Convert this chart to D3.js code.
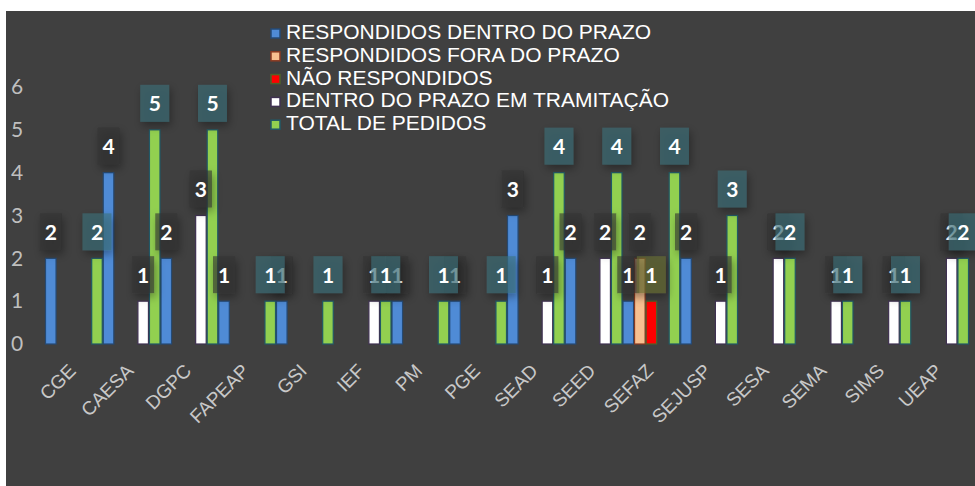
<!DOCTYPE html>
<html>
<head>
<meta charset="utf-8">
<script src="https://cdn.jsdelivr.net/npm/d3@7"></script>
<style>
    body { margin: 0; background: #ffffff; }
</style>
</head>
<body>
<div id="chart"></div>
<script>
// Categories (orgaos)
const categories = ["CGE", "CAESA", "DGPC", "FAPEAP", "GSI", "IEF", "PM", "PGE",
    "SEAD", "SEED", "SEFAZ", "SEJUSP", "SESA", "SEMA", "SIMS", "UEAP"];

// Series values, one per category
const dentroPrazo    = [2, 4, 2, 1, 1, 0, 1, 1, 3, 2, 1, 2, 0, 0, 0, 0];
const foraPrazo      = [0, 0, 0, 0, 0, 0, 0, 0, 0, 0, 2, 0, 0, 0, 0, 0];
const naoRespondidos = [0, 0, 0, 0, 0, 0, 0, 0, 0, 0, 1, 0, 0, 0, 0, 0];
const emTramitacao   = [0, 1, 3, 0, 0, 1, 0, 0, 1, 2, 0, 1, 2, 1, 1, 2];
const totalPedidos   = [2, 5, 5, 1, 1, 1, 1, 1, 4, 4, 4, 3, 2, 1, 1, 2];

const seriesNames = ["RESPONDIDOS DENTRO DO PRAZO", "RESPONDIDOS FORA DO PRAZO",
    "NÃO RESPONDIDOS", "DENTRO DO PRAZO EM TRAMITAÇÃO", "TOTAL DE PEDIDOS"];

const yTicks = [0, 1, 2, 3, 4, 5, 6];

// Styles per series
const seriesFill   = ["#4f8bd6", "#f8c090", "#ff0000", "#ffffff", "#92d050"];
const seriesStroke = ["#254a75", "#8a3a22", "#4f6228", "#3f3151", "#215967"];
const labelBox     = ["#303030", "#303030", "#6a7030", "#303030", "#3b6f7a"];
const labelBoxW    = [22, 22, 29, 22, 29];

const allSeries = [dentroPrazo, foraPrazo, naoRespondidos, emTramitacao, totalPedidos];

const W = 975, H = 486;

let svg = d3.select("#chart")
    .append("svg")
    .attr("width", W)
    .attr("height", H);

// drop shadow for data labels
let defs = svg.append("defs");
let shadow = defs.append("filter")
    .attr("id", "shadow")
    .attr("x", "-50%").attr("y", "-50%")
    .attr("width", "200%").attr("height", "200%");
shadow.append("feDropShadow")
    .attr("dx", 2).attr("dy", 4)
    .attr("stdDeviation", 4)
    .attr("flood-color", "#000")
    .attr("flood-opacity", 0.55);

// chart background
svg.append("rect")
    .attr("x", 6).attr("y", 11)
    .attr("width", W - 6).attr("height", H - 11)
    .attr("fill", "#404040");

// Scales
let x = d3.scaleBand()
    .domain(categories)
    .range([45, 969])
    .paddingInner(0)
    .paddingOuter(0);

let xSeries = d3.scaleBand()
    .domain(d3.range(allSeries.length))
    .range([0, x.bandwidth()]);

let y = d3.scaleLinear()
    .domain([0, 6])
    .range([344, 87]);

// Y axis labels (no line, no ticks)
let yAxis = svg.append("g")
    .attr("transform", "translate(22,0)")
    .call(d3.axisLeft(y).tickValues(yTicks).tickFormat(d3.format("d")).tickSize(0).tickPadding(0));
yAxis.select(".domain").remove();
yAxis.selectAll("text")
    .attr("text-anchor", "middle")
    .attr("x", -5)
    .style("font-family", "Lato, 'Open Sans', sans-serif")
    .style("font-size", "21px")
    .style("fill", "#bfbfbf");

// X axis labels, rotated 45 degrees
svg.append("g")
    .selectAll("text")
    .data(categories)
    .enter()
    .append("text")
    .attr("transform", d => "translate(" + (x(d) + x.bandwidth() / 2 + 3) + ",372) rotate(-45)")
    .attr("text-anchor", "end")
    .style("font-family", "'Liberation Sans', Arial, sans-serif")
    .style("font-size", "19px")
    .style("fill", "#c8c8c8")
    .text(d => d);

// Bars
allSeries.forEach(function (values, s) {
    svg.append("g")
        .selectAll("rect")
        .data(values.map((v, i) => ({cat: categories[i], v: v})).filter(d => d.v > 0))
        .enter()
        .append("rect")
        .attr("x", d => x(d.cat) + xSeries(s) + 0.5)
        .attr("y", d => y(d.v))
        .attr("width", xSeries.bandwidth() - 1)
        .attr("height", d => y(0) - y(d.v))
        .attr("fill", seriesFill[s])
        .attr("stroke", seriesStroke[s])
        .attr("stroke-width", 1.2);
});

// Data labels
allSeries.forEach(function (values, s) {
    let items = values.map((v, i) => ({cat: categories[i], v: v})).filter(d => d.v > 0);
    items.forEach(function (d) {
        let cx = x(d.cat) + xSeries(s) + xSeries.bandwidth() / 2;
        let cy = y(d.v) - 27;
        let g = svg.append("g");
        g.append("rect")
            .attr("x", cx - labelBoxW[s] / 2)
            .attr("y", cy - 18)
            .attr("width", labelBoxW[s])
            .attr("height", 37)
            .attr("fill", labelBox[s])
            .attr("fill-opacity", 0.6)
            .attr("filter", "url(#shadow)");
        g.append("text")
            .attr("x", cx)
            .attr("y", cy)
            .attr("text-anchor", "middle")
            .attr("dominant-baseline", "central")
            .style("font-family", "Lato, 'Open Sans', sans-serif")
            .style("font-weight", "bold")
            .style("font-size", "21px")
            .style("fill", "#ffffff")
            .text(d.v);
    });
});

// Legend
let legend = svg.append("g")
    .attr("transform", "translate(271,39)");

seriesNames.forEach(function (name, i) {
    let item = legend.append("g")
        .attr("transform", "translate(0," + (i * 22.8) + ")");
    item.append("rect")
        .attr("x", 0)
        .attr("y", -10)
        .attr("width", 9)
        .attr("height", 9)
        .attr("fill", seriesFill[i])
        .attr("stroke", seriesStroke[i])
        .attr("stroke-width", 1.5);
    item.append("text")
        .attr("x", 15)
        .attr("y", 0)
        .style("font-family", "'Liberation Sans', Arial, sans-serif")
        .style("font-size", "21px")
        .style("fill", "#ffffff")
        .text(name);
});
</script>
</body>
</html>
